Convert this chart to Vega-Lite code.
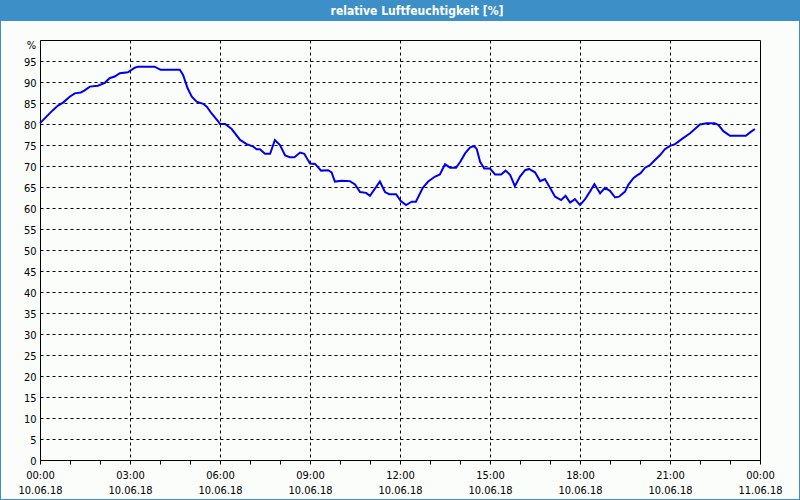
{
  "$schema": "https://vega.github.io/schema/vega-lite/v6.json",
  "autosize": "none",
  "width": 720,
  "height": 420,
  "padding": {"left": 40, "top": 40, "right": 40, "bottom": 40},
  "background": "#fbfdfb",
  "config": {
    "view": {"stroke": "#000000", "strokeWidth": 1},
    "font": "DejaVu Sans Condensed"
  },
  "data": {
    "values": [
      {"stunde": 0, "rf": 80.2}, {"stunde": 0.43, "rf": 83.3}, {"stunde": 0.6, "rf": 84.4}, {"stunde": 0.77, "rf": 85.1},
      {"stunde": 0.99, "rf": 86.5}, {"stunde": 1.16, "rf": 87.3}, {"stunde": 1.36, "rf": 87.5}, {"stunde": 1.49, "rf": 88.0},
      {"stunde": 1.66, "rf": 88.9}, {"stunde": 1.93, "rf": 89.1}, {"stunde": 2.16, "rf": 89.8}, {"stunde": 2.32, "rf": 90.9},
      {"stunde": 2.49, "rf": 91.3}, {"stunde": 2.66, "rf": 92.1}, {"stunde": 2.93, "rf": 92.3}, {"stunde": 3.16, "rf": 93.4},
      {"stunde": 3.27, "rf": 93.65}, {"stunde": 3.82, "rf": 93.65}, {"stunde": 4.02, "rf": 92.9}, {"stunde": 4.66, "rf": 92.9},
      {"stunde": 4.77, "rf": 91.7}, {"stunde": 4.92, "rf": 88.5}, {"stunde": 5.06, "rf": 86.5}, {"stunde": 5.22, "rf": 85.3},
      {"stunde": 5.44, "rf": 84.8}, {"stunde": 5.56, "rf": 84.1}, {"stunde": 5.72, "rf": 82.5}, {"stunde": 5.94, "rf": 80.6},
      {"stunde": 6.0, "rf": 80.0}, {"stunde": 6.17, "rf": 80.0}, {"stunde": 6.39, "rf": 78.8}, {"stunde": 6.67, "rf": 76.2},
      {"stunde": 6.89, "rf": 75.2}, {"stunde": 7.11, "rf": 74.6}, {"stunde": 7.22, "rf": 74.0}, {"stunde": 7.33, "rf": 74.0},
      {"stunde": 7.5, "rf": 72.9}, {"stunde": 7.67, "rf": 72.9}, {"stunde": 7.83, "rf": 76.2}, {"stunde": 8.0, "rf": 75.0},
      {"stunde": 8.17, "rf": 72.5}, {"stunde": 8.33, "rf": 72.1}, {"stunde": 8.48, "rf": 72.1}, {"stunde": 8.67, "rf": 73.2},
      {"stunde": 8.81, "rf": 72.9}, {"stunde": 9.0, "rf": 70.6}, {"stunde": 9.17, "rf": 70.5}, {"stunde": 9.37, "rf": 68.9},
      {"stunde": 9.61, "rf": 69.0}, {"stunde": 9.72, "rf": 68.5}, {"stunde": 9.83, "rf": 66.3}, {"stunde": 10.06, "rf": 66.5},
      {"stunde": 10.33, "rf": 66.4}, {"stunde": 10.5, "rf": 65.6}, {"stunde": 10.67, "rf": 63.8}, {"stunde": 10.87, "rf": 63.6},
      {"stunde": 11.0, "rf": 62.9}, {"stunde": 11.33, "rf": 66.3}, {"stunde": 11.5, "rf": 63.8}, {"stunde": 11.64, "rf": 63.3},
      {"stunde": 11.87, "rf": 63.3}, {"stunde": 12.02, "rf": 61.7}, {"stunde": 12.2, "rf": 60.7}, {"stunde": 12.39, "rf": 61.5},
      {"stunde": 12.53, "rf": 61.5}, {"stunde": 12.76, "rf": 64.8}, {"stunde": 12.94, "rf": 66.3}, {"stunde": 13.17, "rf": 67.5},
      {"stunde": 13.33, "rf": 68.0}, {"stunde": 13.5, "rf": 70.4}, {"stunde": 13.67, "rf": 69.6}, {"stunde": 13.87, "rf": 69.6},
      {"stunde": 14.0, "rf": 70.9}, {"stunde": 14.17, "rf": 73.0}, {"stunde": 14.33, "rf": 74.4}, {"stunde": 14.47, "rf": 74.8},
      {"stunde": 14.56, "rf": 74.0}, {"stunde": 14.67, "rf": 71.0}, {"stunde": 14.81, "rf": 69.4}, {"stunde": 15.0, "rf": 69.4},
      {"stunde": 15.17, "rf": 68.0}, {"stunde": 15.37, "rf": 68.0}, {"stunde": 15.52, "rf": 68.9}, {"stunde": 15.67, "rf": 67.9},
      {"stunde": 15.83, "rf": 65.2}, {"stunde": 16.0, "rf": 67.5}, {"stunde": 16.17, "rf": 69.0}, {"stunde": 16.3, "rf": 69.3},
      {"stunde": 16.5, "rf": 68.5}, {"stunde": 16.67, "rf": 66.4}, {"stunde": 16.83, "rf": 66.9}, {"stunde": 17.0, "rf": 64.8},
      {"stunde": 17.17, "rf": 62.7}, {"stunde": 17.37, "rf": 61.9}, {"stunde": 17.52, "rf": 62.9}, {"stunde": 17.67, "rf": 61.3},
      {"stunde": 17.83, "rf": 62.1}, {"stunde": 18.0, "rf": 60.7}, {"stunde": 18.17, "rf": 62.1}, {"stunde": 18.33, "rf": 63.9},
      {"stunde": 18.48, "rf": 65.7}, {"stunde": 18.67, "rf": 63.5}, {"stunde": 18.83, "rf": 64.8}, {"stunde": 19.0, "rf": 64.1},
      {"stunde": 19.17, "rf": 62.5}, {"stunde": 19.3, "rf": 62.7}, {"stunde": 19.5, "rf": 63.9}, {"stunde": 19.61, "rf": 65.5},
      {"stunde": 19.78, "rf": 67.1}, {"stunde": 19.89, "rf": 67.7}, {"stunde": 20.02, "rf": 68.3}, {"stunde": 20.17, "rf": 69.6},
      {"stunde": 20.33, "rf": 70.2}, {"stunde": 20.44, "rf": 71.0}, {"stunde": 20.67, "rf": 72.6}, {"stunde": 20.83, "rf": 74.0},
      {"stunde": 21.0, "rf": 74.8}, {"stunde": 21.17, "rf": 75.2}, {"stunde": 21.39, "rf": 76.4}, {"stunde": 21.67, "rf": 77.8},
      {"stunde": 22.0, "rf": 79.9}, {"stunde": 22.22, "rf": 80.2}, {"stunde": 22.48, "rf": 80.2}, {"stunde": 22.61, "rf": 79.8},
      {"stunde": 22.78, "rf": 78.3}, {"stunde": 23.0, "rf": 77.2}, {"stunde": 23.53, "rf": 77.2}, {"stunde": 23.67, "rf": 78.0},
      {"stunde": 23.83, "rf": 78.8}
    ]
  },
  "layer": [
    {
      "mark": {"type": "line", "color": "#0000ee", "strokeWidth": 2, "interpolate": "linear"},
      "encoding": {
        "x": {
          "field": "stunde", "type": "quantitative",
          "scale": {"domain": [0, 24], "nice": false, "zero": false},
          "axis": {
            "orient": "bottom",
            "title": null,
            "values": [0,1,2,3,4,5,6,7,8,9,10,11,12,13,14,15,16,17,18,19,20,21,22,23,24],
            "domain": true, "domainColor": "#000000",
            "ticks": true, "tickColor": "#000000", "tickSize": 4,
            "grid": true, "gridColor": "#000000", "gridDash": [3, 3],
            "gridOpacity": {"condition": {"test": "datum.value % 3 == 0 && datum.value > 0 && datum.value < 24", "value": 1}, "value": 0},
            "labelExpr": "datum.value % 3 == 0 ? [(datum.value % 24 < 10 ? '0' : '') + (datum.value % 24) + ':00', datum.value == 24 ? '11.06.18' : '10.06.18'] : ''",
            "labelOverlap": false, "labelFlush": false,
            "labelColor": "#000000", "labelFontSize": 11, "labelPadding": 5,
            "labelLineHeight": 15, "labelBaseline": "top"
          }
        },
        "y": {
          "field": "rf", "type": "quantitative",
          "scale": {"domain": [0, 100], "nice": false},
          "axis": {
            "orient": "left",
            "values": [0,5,10,15,20,25,30,35,40,45,50,55,60,65,70,75,80,85,90,95],
            "domain": true, "domainColor": "#000000",
            "ticks": false,
            "grid": true, "gridColor": "#000000", "gridDash": [3, 3],
            "labelColor": "#000000", "labelFontSize": 11, "labelPadding": 4, "labelOffset": 1,
            "title": "%", "titleAngle": 0, "titleX": -9, "titleY": 5, "titleAlign": "center", "titleBaseline": "middle",
            "titleFontWeight": "normal", "titleFontSize": 11, "titleColor": "#000000"
          }
        }
      }
    },
    {
      "mark": {"type": "line", "strokeOpacity": 0},
      "encoding": {
        "x": {
          "field": "stunde", "type": "quantitative",
          "axis": {
            "orient": "top", "values": [12], "offset": 19, "translate": 0,
            "domain": false, "labels": false, "grid": false,
            "ticks": true, "tickSize": 21, "tickWidth": 800, "tickColor": "#3c8fc7",
            "title": "relative Luftfeuchtigkeit [%]", "titleX": 377, "titleY": -10,
            "titleAlign": "center", "titleBaseline": "middle", "titleAngle": 0,
            "titleColor": "#ffffff", "titleFontWeight": "bold", "titleFontSize": 12
          }
        },
        "y": {
          "field": "rf", "type": "quantitative",
          "axis": {
            "orient": "right", "values": [50], "offset": 39, "translate": 0,
            "domain": false, "labels": false, "grid": false, "title": null,
            "ticks": true, "tickSize": 1, "tickWidth": 500, "tickColor": "#3c8fc7"
          }
        }
      }
    },
    {
      "mark": {"type": "line", "strokeOpacity": 0},
      "encoding": {
        "x": {
          "field": "stunde", "type": "quantitative",
          "axis": {
            "orient": "bottom", "values": [12], "offset": 39, "translate": 0,
            "domain": false, "labels": false, "grid": false, "title": null,
            "ticks": true, "tickSize": 1, "tickWidth": 800, "tickColor": "#3c8fc7"
          }
        },
        "y": {
          "field": "rf", "type": "quantitative",
          "axis": {
            "orient": "left", "values": [50], "offset": 39, "translate": 0,
            "domain": false, "labels": false, "grid": false, "title": null,
            "ticks": true, "tickSize": 1, "tickWidth": 500, "tickColor": "#3c8fc7"
          }
        }
      }
    }
  ],
  "resolve": {"axis": {"x": "independent", "y": "independent"}}
}
